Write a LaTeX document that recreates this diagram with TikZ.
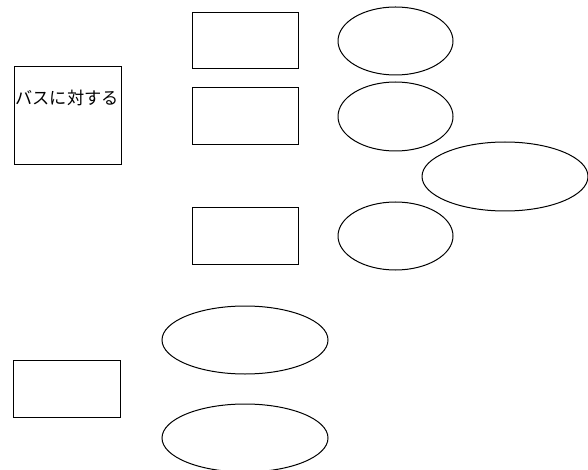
\documentclass[tikz,border=0pt]{standalone}
\usepackage{fontspec}
\newfontfamily\cjk{Noto Sans CJK JP}
\usetikzlibrary{shapes.geometric}
\begin{document}
\begin{tikzpicture}[x=1pt,y=-1pt,
  box/.style={draw=black,line width=1pt,rectangle,inner sep=0pt,minimum width=#1},
  oval/.style={draw=black,line width=1pt,ellipse,inner sep=0pt}]
\useasboundingbox (0,0) rectangle (588,470);
\clip (0,0) rectangle (588,470);
\node[box=107pt,minimum height=98pt] (a) at (67.5,116) {};
\node[font=\cjk\fontsize{17.2}{19}\selectfont,inner sep=0pt] (at) at (67,98) {バスに対する};
\node[box=106pt,minimum height=56pt] (b1) at (245,41) {};
\node[box=106pt,minimum height=57pt] (b2) at (245,116.5) {};
\node[box=106pt,minimum height=56pt] (b3) at (245,236) {};
\node[oval,minimum width=115pt,minimum height=68pt] (e1) at (395.5,41) {};
\node[oval,minimum width=115pt,minimum height=69pt] (e2) at (395.5,116.5) {};
\node[oval,minimum width=166pt,minimum height=69pt] (e3) at (505,176.5) {};
\node[oval,minimum width=115pt,minimum height=68pt] (e4) at (395.5,236) {};
\node[box=107pt,minimum height=57pt] (c) at (66.5,388.5) {};
\node[oval,minimum width=166pt,minimum height=68pt] (e5) at (245,340) {};
\node[oval,minimum width=166pt,minimum height=68pt] (e6) at (245,438) {};
\end{tikzpicture}
\end{document}
